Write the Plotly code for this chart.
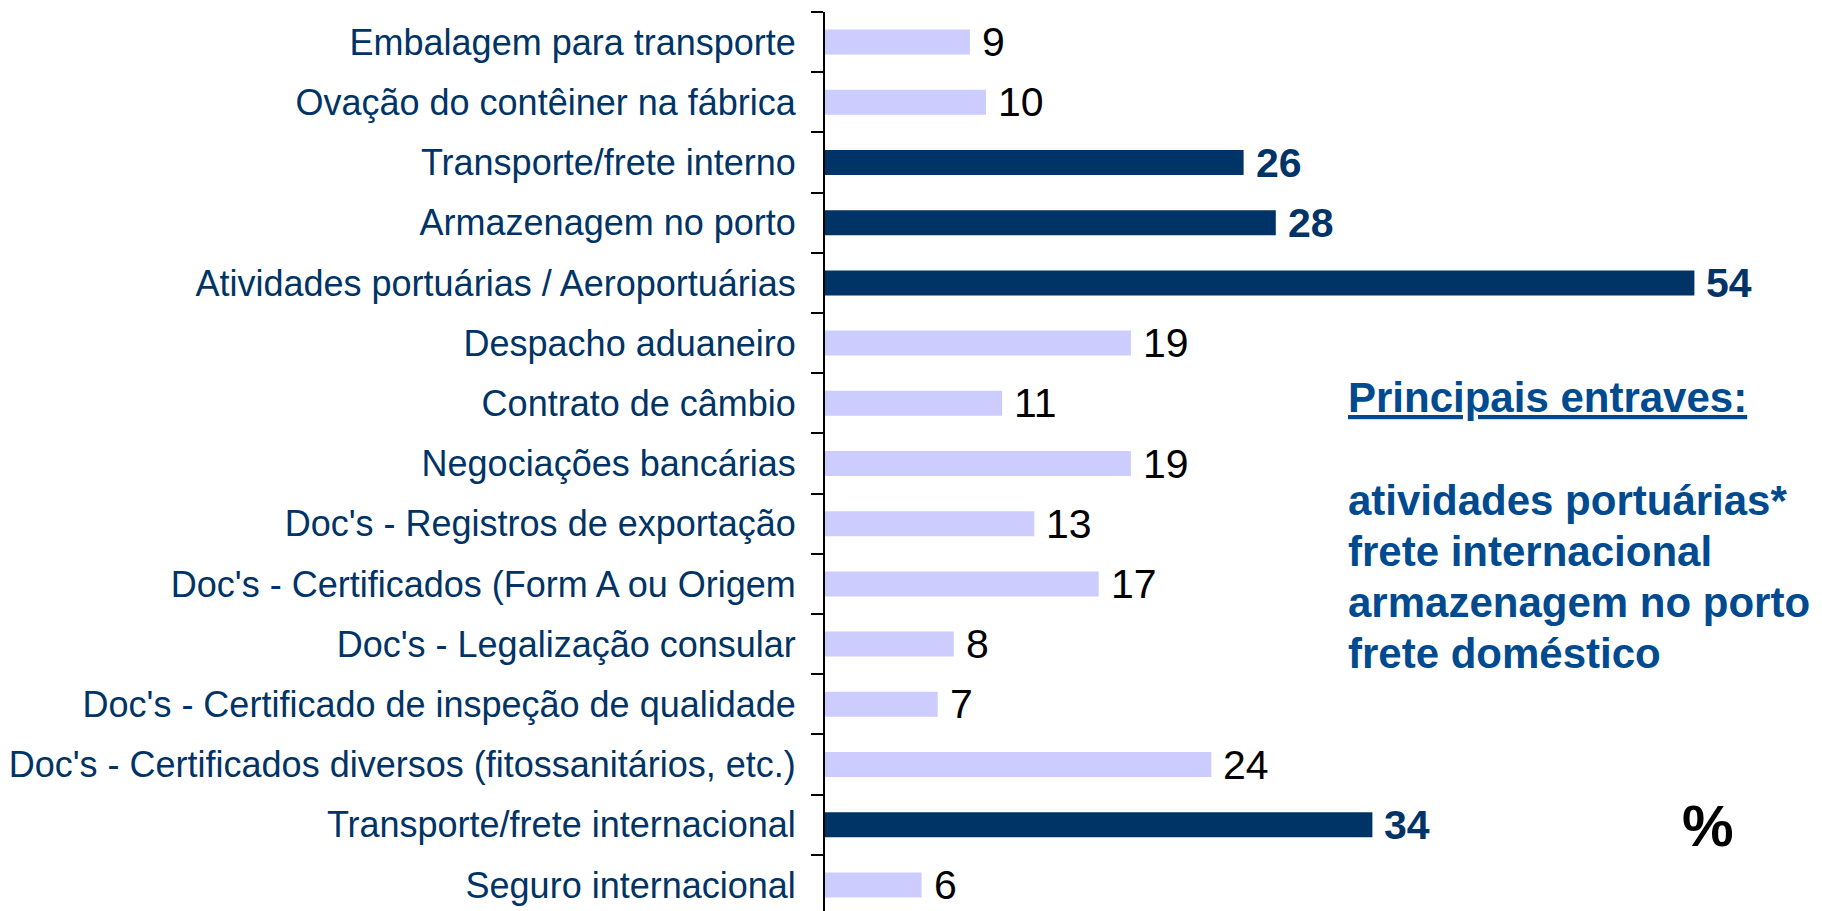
import plotly.graph_objects as go

categorias = [
    "Embalagem para transporte",
    "Ovação do contêiner na fábrica",
    "Transporte/frete interno",
    "Armazenagem no porto",
    "Atividades portuárias / Aeroportuárias",
    "Despacho aduaneiro",
    "Contrato de câmbio",
    "Negociações bancárias",
    "Doc's - Registros de exportação",
    "Doc's - Certificados (Form A ou Origem",
    "Doc's - Legalização consular",
    "Doc's - Certificado de inspeção de qualidade",
    "Doc's - Certificados diversos (fitossanitários, etc.)",
    "Transporte/frete internacional",
    "Seguro internacional",
]
valores = [9, 10, 26, 28, 54, 19, 11, 19, 13, 17, 8, 7, 24, 34, 6]
destaques = [
    "Transporte/frete interno",
    "Armazenagem no porto",
    "Atividades portuárias / Aeroportuárias",
    "Transporte/frete internacional",
]
titulo_caixa = "Principais entraves:"
linhas_caixa = [
    "atividades portuárias*",
    "frete internacional",
    "armazenagem no porto",
    "frete doméstico",
]
unidade = "%"

# page has an 8px body margin: shift everything up/left by 8px
OFF = 8
W, H = 1822 - OFF, 911 - OFF
L, R, T, B = 825 - OFF, 0, 12 - OFF, 0
PW, PH = W - L - R, H - T - B
PX_PER_UNIT = 16.1
CAT_PX = 60.2

DARK = "#003366"
LIGHT = "#CCCCFF"
BOX_BLUE = "#004A8F"
FONT = "Liberation Sans, Arial, sans-serif"

cores = [DARK if c in destaques else LIGHT for c in categorias]

fig = go.Figure(
    go.Bar(
        y=categorias,
        x=valores,
        orientation="h",
        marker=dict(color=cores, line=dict(width=0)),
        width=25 / CAT_PX,
        hoverinfo="skip",
    )
)


def px_to_paper(px, py):
    # px, py are page (reference) pixel coordinates
    fx, fy = px - OFF, py - OFF
    return (fx - L) / PW, 1 - (fy - T) / PH


annotations = []
for c, v in zip(categorias, valores):
    hi = c in destaques
    annotations.append(
        dict(
            x=v, y=c, xref="x", yref="y",
            text=f"<b>{v}</b>" if hi else str(v),
            showarrow=False, xanchor="left", yanchor="middle",
            xshift=10,
            font=dict(family=FONT, size=41, color=DARK if hi else "#000000"),
        )
    )

bx, by = px_to_paper(1346, 397)
annotations.append(
    dict(x=bx, y=by, xref="paper", yref="paper",
         text=f"<b><u>{titulo_caixa}</u></b>", showarrow=False,
         xanchor="left", yanchor="middle",
         font=dict(family=FONT, size=42, color=BOX_BLUE))
)
for i, linha in enumerate(linhas_caixa):
    lx, ly = px_to_paper(1346, 500 + i * 51)
    annotations.append(
        dict(x=lx, y=ly, xref="paper", yref="paper",
             text=f"<b>{linha}</b>", showarrow=False,
             xanchor="left", yanchor="middle",
             font=dict(family=FONT, size=42, color=BOX_BLUE))
    )

ux, uy = px_to_paper(1708, 825)
annotations.append(
    dict(x=ux, y=uy, xref="paper", yref="paper",
         text=f"<b>{unidade}</b>", showarrow=False,
         xanchor="center", yanchor="middle",
         font=dict(family=FONT, size=58, color="#000000"))
)

y_bottom = -0.5 + PH / CAT_PX

fig.update_layout(
    width=W, height=H,
    margin=dict(l=L, r=R, t=T, b=B, pad=0),
    paper_bgcolor="white", plot_bgcolor="white",
    showlegend=False,
    annotations=annotations,
    xaxis=dict(visible=False, range=[0, PW / PX_PER_UNIT], fixedrange=True),
    yaxis=dict(
        type="category",
        categoryorder="array", categoryarray=categorias,
        range=[y_bottom, -0.5],
        showline=True, linecolor="#000000", linewidth=2,
        ticks="outside", ticklen=12, tickwidth=2, tickcolor="#000000",
        tickson="boundaries",
        showgrid=False, zeroline=False,
        tickfont=dict(family=FONT, size=36, color=DARK),
        ticklabelstandoff=20,
        automargin=False,
        fixedrange=True,
    ),
)

fig.write_html("out.html", config={"displayModeBar": False})
